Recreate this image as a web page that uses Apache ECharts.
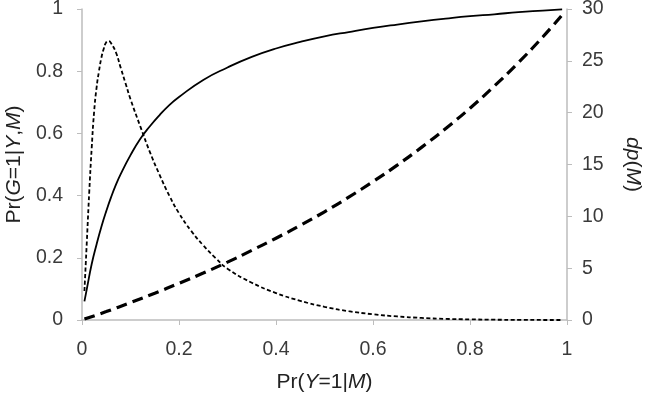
<!DOCTYPE html>
<html><head><meta charset="utf-8">
<script src="https://cdn.jsdelivr.net/npm/echarts@6/dist/echarts.min.js"></script>
<style>html,body{margin:0;padding:0;background:#fff}#c{width:647px;height:400px}</style>
</head><body><div id="c"></div>
<script>
// Solid: Pr(G=1|Y,M) (left axis)
const solidX = [0.005, 0.01, 0.02, 0.03, 0.04, 0.05, 0.06, 0.07, 0.08, 0.1, 0.12, 0.14, 0.16, 0.18, 0.2, 0.25, 0.3, 0.35, 0.4, 0.45, 0.5, 0.55, 0.6, 0.65, 0.7, 0.75, 0.8, 0.85, 0.9, 0.95, 0.99];
const solidY = [0.06, 0.10, 0.18, 0.243, 0.30, 0.35, 0.395, 0.435, 0.47, 0.53, 0.582, 0.623, 0.659, 0.691, 0.717, 0.772, 0.812, 0.846, 0.873, 0.894, 0.912, 0.926, 0.939, 0.95, 0.96, 0.969, 0.977, 0.983, 0.99, 0.995, 0.999];
// Thick dashed (left axis)
const dashX = [0.005, 0.05, 0.1, 0.15, 0.2, 0.25, 0.3, 0.35, 0.4, 0.45, 0.5, 0.55, 0.6, 0.65, 0.7, 0.75, 0.8, 0.85, 0.9, 0.95, 0.99];
const dashY = [0.003, 0.027, 0.056, 0.086, 0.118, 0.151, 0.186, 0.224, 0.263, 0.304, 0.348, 0.395, 0.445, 0.498, 0.555, 0.616, 0.681, 0.752, 0.828, 0.91, 0.981];
// Thin dotted: dp(M) (right axis)
const dpX = [0.005, 0.01, 0.015, 0.02, 0.025, 0.03, 0.035, 0.04, 0.045, 0.05, 0.055, 0.06, 0.07, 0.08, 0.09, 0.1, 0.12, 0.14, 0.16, 0.18, 0.2, 0.225, 0.25, 0.275, 0.3, 0.35, 0.4, 0.45, 0.5, 0.55, 0.6, 0.65, 0.7, 0.75, 0.8, 0.85, 0.9, 0.99];
const dpY = [2.8, 7.6, 12.4, 16.6, 20.1, 22.4, 24.0, 25.3, 26.2, 26.8, 26.9, 26.7, 25.8, 24.3, 22.8, 21.3, 18.7, 16.2, 14.0, 12.0, 10.3, 8.6, 7.2, 6.0, 4.95, 3.6, 2.6, 1.85, 1.27, 0.85, 0.55, 0.34, 0.2, 0.11, 0.06, 0.03, 0.01, 0.0];
// Axis tick labels
const xTicks = ['0', '0.2', '0.4', '0.6', '0.8', '1'];
const leftTicks = ['0', '0.2', '0.4', '0.6', '0.8', '1'];
const rightTicks = ['0', '5', '10', '15', '20', '25', '30'];

const pair = (xs, ys) => xs.map((x, i) => [x, ys[i]]);
const FONT = 'Liberation Sans, Arial, sans-serif';
const axisLineGray = '#bdbdbd';
const labelColor = '#3a3a3a';
const rich = {
  n: { fontFamily: FONT, fontSize: 21, color: '#222' },
  i: { fontFamily: FONT, fontSize: 21, color: '#222', fontStyle: 'italic' }
};
const tickFont = { fontFamily: FONT, fontSize: 19.5, color: labelColor };

const chart = echarts.init(document.getElementById('c'), null, { renderer: 'canvas' });
chart.setOption({
  animation: false,
  grid: { left: 82, right: 80, top: 9, bottom: 80, containLabel: false, outerBoundsMode: 'none' },
  xAxis: {
    type: 'value', min: 0, max: 1, interval: 0.2,
    axisLine: { show: true, lineStyle: { color: axisLineGray, width: 1.5 } },
    axisTick: { show: true, length: 5, lineStyle: { color: axisLineGray } },
    splitLine: { show: false },
    axisLabel: Object.assign({ margin: 20, formatter: (v) => xTicks[Math.round(v / 0.2)] }, tickFont),
    name: '{n|Pr(}{i|Y}{n|=1|}{i|M}{n|)}',
    nameLocation: 'middle', nameGap: 52,
    nameTextStyle: { rich }
  },
  yAxis: [{
    type: 'value', min: 0, max: 1, interval: 0.2, position: 'left',
    axisLine: { show: true, lineStyle: { color: axisLineGray, width: 1.5 } },
    axisTick: { show: true, length: 5, lineStyle: { color: axisLineGray } },
    splitLine: { show: false },
    axisLabel: Object.assign({ margin: 19, formatter: (v) => leftTicks[Math.round(v / 0.2)] }, tickFont),
    name: '{n|Pr(}{i|G}{n|=1|}{i|Y}{n|,}{i|M}{n|)}',
    nameLocation: 'middle', nameGap: 54, nameRotate: 90,
    nameTextStyle: { rich }
  }, {
    type: 'value', min: 0, max: 30, interval: 5, position: 'right',
    axisLine: { show: true, lineStyle: { color: axisLineGray, width: 1.5 } },
    axisTick: { show: true, length: 5, lineStyle: { color: axisLineGray } },
    splitLine: { show: false },
    axisLabel: Object.assign({ margin: 15, formatter: (v) => rightTicks[Math.round(v / 5)] }, tickFont),
    name: '{i|dp}{n|(}{i|M}{n|)}',
    nameLocation: 'middle', nameGap: 55, nameRotate: -90,
    nameTextStyle: { rich }
  }],
  series: [{
    type: 'line', yAxisIndex: 0, data: pair(solidX, solidY), smooth: true,
    symbol: 'none', lineStyle: { color: '#000', width: 1.8, type: 'solid' }
  }, {
    type: 'line', yAxisIndex: 0, data: pair(dashX, dashY), smooth: true,
    symbol: 'none', lineStyle: { color: '#000', width: 3.2, type: [11, 6] }
  }, {
    type: 'line', yAxisIndex: 1, data: pair(dpX, dpY), smooth: true,
    symbol: 'none', lineStyle: { color: '#000', width: 1.8, type: [4, 2.5] }
  }]
});
</script></body></html>
